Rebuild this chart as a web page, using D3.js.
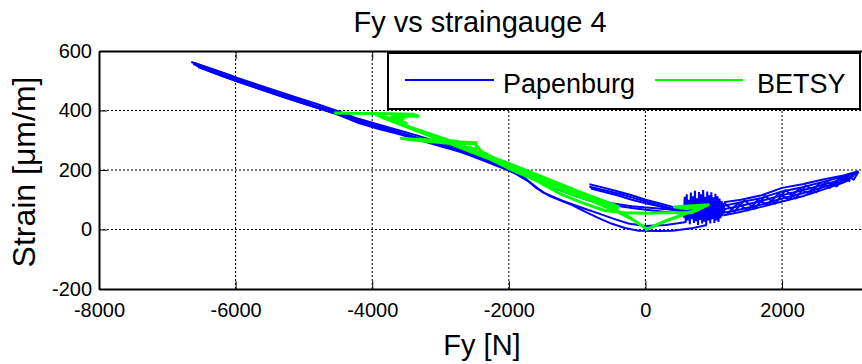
<!DOCTYPE html>
<html>
<head>
<meta charset="utf-8">
<script src="https://cdn.jsdelivr.net/npm/d3@7"></script>
<style>
  body { margin: 0; background: #fff; }
  text { font-family: "Liberation Sans", Arial, sans-serif; fill: #000; }
  .grid line { stroke: #000; stroke-width: 1; stroke-dasharray: 2,2; }
</style>
</head>
<body>
<script>
"use strict";

// tick labels
var xTicks = [-8000, -6000, -4000, -2000, 0, 2000];
var yTicks = [-200, 0, 200, 400, 600];
var seriesNames = ["Papenburg", "BETSY"];

// Papenburg traces, [Fy, strain]
var papenburg1 = [[-6650,563],[-6300,536],[-6000,511],[-5600,481],[-5200,451],[-4800,421],[-4500,398],[-4200,372],[-3900,352],[-3600,333],[-3300,313],[-3000,292],[-2700,271],[-2400,246],[-2000,215],[-1700,188],[-1400,158],[-1100,130],[-800,105],[-500,88],[-200,78],[100,72],[400,66],[600,60]];
var papenburg2 = [[-6620,556],[-6300,530],[-6000,504],[-5600,474],[-5200,444],[-4800,414],[-4500,392],[-4200,364],[-3900,344],[-3600,326],[-3300,306],[-3000,286],[-2700,265],[-2400,240],[-2000,205],[-1700,178],[-1400,146],[-1100,118],[-800,96],[-500,82],[-200,72],[100,64],[400,56],[600,52]];
var papenburg3 = [[-6580,552],[-6300,526],[-6000,500],[-5600,469],[-5200,438],[-4800,408],[-4500,386],[-4200,358],[-3900,338],[-3600,320],[-3300,300],[-3000,280],[-2700,260],[-2400,234],[-2000,198],[-1800,180],[-1600,140],[-1400,112],[-1100,85],[-900,62],[-700,40],[-500,20],[-300,5],[-100,-4],[200,-5],[400,-4],[700,5],[900,15]];
var papenburg4 = [[-6550,546],[-6200,516],[-5800,484],[-5400,453],[-5000,423],[-4600,394],[-4200,362],[-3800,336],[-3400,310],[-3000,284],[-2600,254],[-2300,230],[-2000,200],[-1700,160],[-1500,125],[-1200,95],[-950,75],[-700,55],[-450,35],[-250,20],[0,12],[300,15],[600,25]];
var papenburg5 = [[-820,152],[-600,140],[-400,128],[-200,115],[0,100],[200,88],[400,76],[600,66]];
var papenburg6 = [[-820,144],[-600,132],[-400,121],[-200,108],[0,94],[200,82],[400,70],[600,60]];
var papenburg7 = [[-800,138],[-600,126],[-400,114],[-200,100],[0,88],[200,78],[400,66],[600,56]];
var papenburg8 = [[560,40],[575,110],[590,25],[605,118],[620,30],[635,100],[650,18],[665,124],[680,35],[695,112],[710,22],[725,130],[740,28],[755,105],[770,15],[785,126],[800,32],[815,118],[830,20],[845,133],[860,26],[875,110],[890,14],[905,128],[920,30],[935,115],[950,20],[965,125],[980,35],[995,108],[1010,22],[1025,120],[1040,30],[1055,112],[1070,25],[1085,104],[1100,38],[1115,96],[1130,45],[1145,90],[1160,55]];
var papenburg9 = [[580,70],[600,50],[620,85],[640,45],[660,90],[680,50],[700,95],[720,55],[740,85],[760,45],[780,92],[800,50],[820,88],[840,42],[860,95],[880,52],[900,90],[920,48],[940,86],[960,55],[980,92],[1000,50],[1020,85],[1040,58],[1060,88],[1080,52],[1100,80],[1120,60],[1150,78]];
var papenburg10 = [[1150,92],[1400,100],[1700,115],[2000,140],[2300,152],[2600,168],[2900,182],[3120,196]];
var papenburg11 = [[1150,80],[1400,92],[1700,106],[2000,128],[2300,142],[2600,160],[2900,178],[3100,192]];
var papenburg12 = [[1150,68],[1400,80],[1700,96],[2000,115],[2300,132],[2600,150],[2900,170],[3080,186]];
var papenburg13 = [[1150,56],[1400,68],[1700,84],[2000,104],[2300,122],[2600,142],[2900,164],[3050,180]];
var papenburg14 = [[1150,48],[1400,60],[1700,76],[2000,94],[2300,112],[2600,134],[2900,158],[3000,170]];
var papenburg15 = [[1150,90],[1300,60],[1450,98],[1600,70],[1750,112],[1900,88],[2050,132],[2200,105],[2350,148],[2500,125],[2650,162],[2800,145],[2950,182],[3050,168],[3120,194]];
var papenburg16 = [[1200,52],[1350,88],[1500,64],[1650,100],[1800,82],[1950,122],[2100,100],[2250,138],[2400,120],[2550,156],[2700,140],[2850,174],[3000,162]];
var papenburg17 = [[-6600,560],[-6350,538],[-6100,520],[-5850,496],[-5600,478],[-5350,456],[-5100,440],[-4850,416],[-4600,400],[-4350,380],[-4100,362],[-3850,346],[-3600,330]];

var papenburgTraces = [papenburg1, papenburg2, papenburg3, papenburg4, papenburg5, papenburg6,
  papenburg7, papenburg8, papenburg9, papenburg10, papenburg11, papenburg12, papenburg13,
  papenburg14, papenburg15, papenburg16, papenburg17];

// BETSY, one path, [Fy, strain]
var betsy = [[-4557,392],[-4300,391],[-4000,390],[-3700,389],[-3400,387],[-3326,381],[-3700,383],[-3500,378],[-3800,376],[-3550,372],[-3620,366],[-3500,356],[-3560,364],[-3950,386],
  [-2000,222],[-1000,130],[-400,78],[-420,70],[-1000,122],[-2000,212],[-3850,376],[-2476,268],
  [-2476,292],[-2700,294],[-2900,300],[-3200,302],[-3575,306],[-3300,298],[-3000,292],[-2700,286],[-2500,290],
  [-2400,262],[-2000,215],[-1600,175],[-1230,140],[-900,108],[-600,78],[-400,58],[-200,35],[0,5],
  [-300,50],[-700,90],[-1100,120],[-1500,160],[-1900,200],[-2300,240],[-2000,205],[-1600,165],[-1230,118],[-900,88],[-600,64],
  [-300,56],[0,55],[300,56],[670,56],[920,83],[600,70],[425,76],[920,83],[500,45],[200,20],[15,0],[300,30],[700,62],[920,83]];

var width = 862, height = 364;
var mLeft = 99, mTop = 51, mRight = 864, mBottom = 289;

var svg = d3.select("body").append("svg")
    .attr("width", width)
    .attr("height", height);

var x = d3.scaleLinear().domain([-8000, 3200]).range([mLeft, mRight]);
var y = d3.scaleLinear().domain([-200, 600]).range([mBottom, mTop]);

// grid
var grid = svg.append("g").attr("class", "grid");
grid.selectAll(".gx").data(xTicks.slice(1))
  .enter().append("line")
    .attr("x1", function(d) { return x(d); }).attr("x2", function(d) { return x(d); })
    .attr("y1", mTop).attr("y2", mBottom);
grid.selectAll(".gy").data(yTicks.slice(1, -1))
  .enter().append("line")
    .attr("y1", function(d) { return y(d); }).attr("y2", function(d) { return y(d); })
    .attr("x1", mLeft).attr("x2", mRight);

var line = d3.line()
    .x(function(d) { return x(d[0]); })
    .y(function(d) { return y(d[1]); });

svg.selectAll(".pap").data(papenburgTraces)
  .enter().append("path")
    .attr("d", line)
    .attr("fill", "none")
    .attr("stroke", "#0000ff")
    .attr("stroke-width", 2);

svg.append("path")
    .attr("d", line(betsy))
    .attr("fill", "none")
    .attr("stroke", "#00ff00")
    .attr("stroke-width", 3)
    .attr("stroke-linejoin", "round");

// axes
var fmt = function(d) { return String(d); };
svg.append("g")
    .attr("transform", "translate(0," + mBottom + ")")
    .call(d3.axisBottom(x).tickValues(xTicks).tickFormat(fmt).tickSizeInner(-8).tickSizeOuter(0).tickPadding(14));
svg.append("g")
    .attr("transform", "translate(" + mLeft + ",0)")
    .call(d3.axisLeft(y).tickValues(yTicks).tickFormat(fmt).tickSizeInner(-8).tickSizeOuter(0).tickPadding(7));
svg.append("g")
    .attr("transform", "translate(0," + mTop + ")")
    .call(d3.axisTop(x).tickValues(xTicks).tickSizeInner(-8).tickSizeOuter(0).tickFormat(""));

svg.selectAll(".domain").attr("stroke", "#000").attr("stroke-width", 2);
svg.selectAll(".tick line").attr("stroke", "#000");
svg.selectAll(".tick text").style("font-size", "20px").attr("fill", "#000");

// title and labels
svg.append("text").attr("x", 480).attr("y", 32).attr("text-anchor", "middle")
    .style("font-size", "29px").text("Fy vs straingauge 4");
svg.append("text").attr("x", 482).attr("y", 355).attr("text-anchor", "middle")
    .style("font-size", "29px").text("Fy [N]");
svg.append("text").attr("transform", "translate(35,172) rotate(-90)")
    .attr("text-anchor", "middle")
    .style("font-size", "32px").text("Strain [\u03bcm/m]");

// legend
var legend = svg.append("g");
legend.append("rect").attr("x", 388).attr("y", 53).attr("width", 472).attr("height", 56)
    .attr("fill", "#fff").attr("stroke", "#000").attr("stroke-width", 2);
legend.append("line").attr("x1", 405).attr("x2", 494).attr("y1", 80).attr("y2", 80)
    .attr("stroke", "#0000ff").attr("stroke-width", 2);
legend.append("text").attr("x", 503).attr("y", 93).style("font-size", "27px").text(seriesNames[0]);
legend.append("line").attr("x1", 655).attr("x2", 743).attr("y1", 80).attr("y2", 80)
    .attr("stroke", "#00ff00").attr("stroke-width", 2);
legend.append("text").attr("x", 757).attr("y", 93).style("font-size", "27px").text(seriesNames[1]);
</script>
</body>
</html>
